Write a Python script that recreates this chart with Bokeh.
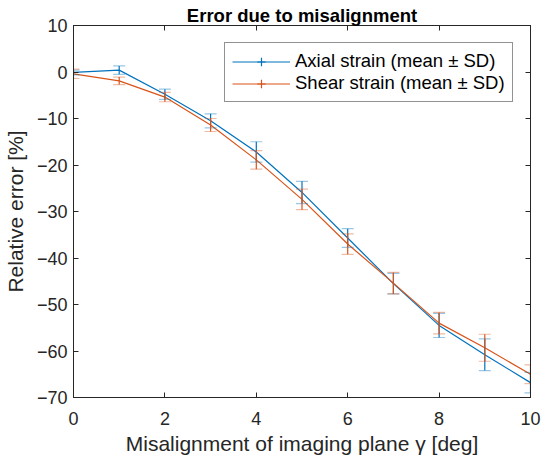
from bokeh.plotting import figure
from bokeh.models import (ColumnDataSource, Whisker, TeeHead, Legend, LegendItem,
                          LinearAxis, FixedTicker, Range1d)
from bokeh.embed import file_html
from bokeh.resources import INLINE

# Misalignment angle of the imaging plane [deg]
angle_deg = [0, 1, 2, 3, 4, 5, 6, 7, 8, 9, 10]

# Relative error [%] of the axial strain, mean and standard deviation
axial_mean = [-0.1, 0.4, -4.8, -10.5, -17.2, -25.9, -35.7, -45.5, -54.5, -60.8, -66.8]
axial_sd = [0.5, 0.9, 1.1, 1.5, 2.2, 2.4, 2.0, 2.2, 2.6, 3.4, 2.2]

# Relative error [%] of the shear strain, mean and standard deviation
shear_mean = [-0.4, -1.9, -5.4, -11.4, -18.9, -27.4, -37.0, -45.4, -54.0, -59.3, -65.0]
shear_sd = [1.0, 0.8, 1.0, 1.4, 2.0, 2.2, 2.2, 2.3, 2.3, 2.9, 2.0]

x_ticks = [0, 2, 4, 6, 8, 10]
y_ticks = [-70, -60, -50, -40, -30, -20, -10, 0, 10]

series_labels = ["Axial strain (mean \u00b1 SD)", "Shear strain (mean \u00b1 SD)"]

BLUE = "#0072BD"
ORANGE = "#D95319"
AXIS = "#262626"
FONT = "Liberation Sans"

p = figure(width=542, height=465, x_range=Range1d(0, 10), y_range=Range1d(-70, 10),
           output_backend="svg", toolbar_location=None,
           min_border_left=73, min_border_right=12, min_border_top=25, min_border_bottom=68)
p.background_fill_color = "white"
p.border_fill_color = "white"
p.grid.visible = False
p.outline_line_color = AXIS
p.outline_line_width = 1

p.title.text = "Error due to misalignment"
p.title.align = "center"
p.title.text_font = FONT
p.title.text_font_size = "18.5px"
p.title.text_font_style = "bold"
p.title.text_color = "black"
p.title.standoff = 0


def style_axis(ax, ticks, show_labels):
    ax.ticker = FixedTicker(ticks=ticks)
    ax.axis_line_color = AXIS
    ax.axis_line_width = 1
    ax.major_tick_line_color = AXIS
    ax.major_tick_in = 5
    ax.major_tick_out = 0
    ax.minor_tick_line_color = None
    ax.major_label_text_font = FONT
    if show_labels:
        ax.major_label_text_font_size = "18px"
        ax.major_label_text_color = AXIS
    else:
        # mirrored ticks only, no numbers
        ax.major_label_text_font_size = "1px"
        ax.major_label_text_color = None
        ax.major_label_standoff = 0
    ax.axis_label_text_font = FONT
    ax.axis_label_text_font_size = "21px"
    ax.axis_label_text_font_style = "normal"
    ax.axis_label_text_color = AXIS


style_axis(p.xaxis[0], x_ticks, True)
style_axis(p.yaxis[0], y_ticks, True)
p.xaxis[0].axis_label = "Misalignment of imaging plane \u03b3 [deg]"
p.yaxis[0].axis_label = "Relative error [%]"
p.xaxis[0].major_label_standoff = 14
p.yaxis[0].major_label_standoff = 6
p.xaxis[0].axis_label_standoff = 4
p.yaxis[0].axis_label_standoff = 7

top_axis = LinearAxis()
style_axis(top_axis, x_ticks, False)
p.add_layout(top_axis, "above")
right_axis = LinearAxis()
style_axis(right_axis, y_ticks, False)
p.add_layout(right_axis, "right")

legend_items = []
for mean, sd, color, label in [(axial_mean, axial_sd, BLUE, series_labels[0]),
                               (shear_mean, shear_sd, ORANGE, series_labels[1])]:
    src = ColumnDataSource(dict(
        x=angle_deg, y=mean,
        lower=[m - s for m, s in zip(mean, sd)],
        upper=[m + s for m, s in zip(mean, sd)],
    ))
    line = p.line("x", "y", source=src, line_color=color, line_width=1.2)
    whisker = Whisker(
        source=src, base="x", lower="lower", upper="upper", dimension="height",
        line_color=color, line_width=1.2, level="glyph",
        lower_head=TeeHead(size=12, line_color=color, line_alpha=0.4, line_width=1.2),
        upper_head=TeeHead(size=12, line_color=color, line_alpha=0.4, line_width=1.2),
    )
    p.add_layout(whisker)
    # zero-size markers: invisible on the axes, drawn as the error-bar key in the legend
    key = p.scatter("x", "y", source=src, marker="cross", size=0, line_color=color,
                    line_width=1.2)
    legend_items.append(LegendItem(label=label, renderers=[line, key]))

legend = Legend(items=legend_items, location="top_right")
legend.margin = 17
legend.padding = 7
legend.spacing = 0
legend.glyph_width = 58
legend.glyph_height = 21
legend.label_height = 21
legend.label_width = 210
legend.label_standoff = 5
legend.label_text_font = FONT
legend.label_text_font_size = "18.5px"
legend.label_text_color = "black"
legend.border_line_color = AXIS
legend.border_line_width = 1
legend.background_fill_color = "white"
legend.background_fill_alpha = 1
p.add_layout(legend)

open("out.html", "w").write(file_html(p, INLINE))
